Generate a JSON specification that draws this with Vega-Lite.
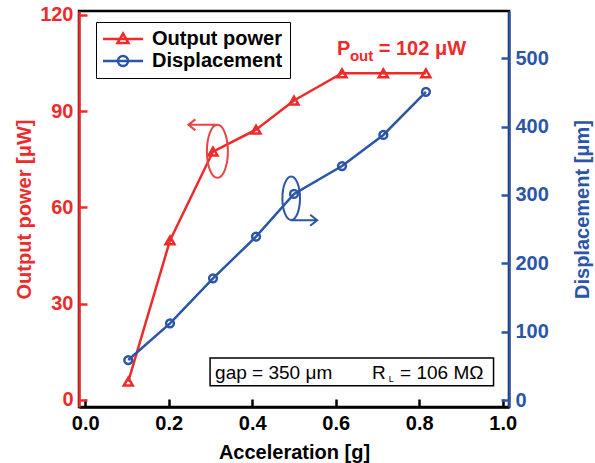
{
  "$schema": "https://vega.github.io/schema/vega-lite/v6.json",
  "width": 430,
  "height": 396,
  "autosize": {"type": "none"},
  "padding": {"left": 79, "top": 11, "right": 86, "bottom": 56},
  "config": {
    "view": {"stroke": "black", "strokeWidth": 2.5},
    "font": "Liberation Sans",
    "axis": {
      "grid": false,
      "labelFont": "Liberation Sans",
      "labelFontWeight": "bold",
      "labelFontSize": 20,
      "titleFont": "Liberation Sans",
      "titleFontWeight": "bold",
      "titleFontSize": 20,
      "domainWidth": 2.5,
      "tickWidth": 2.5,
      "tickSize": -8,
      "labelPadding": 14
    }
  },
  "datasets": {
    "power": [
      {"acc": 0.103, "power": 5.7},
      {"acc": 0.203, "power": 49.7},
      {"acc": 0.306, "power": 77.4},
      {"acc": 0.409, "power": 84.2},
      {"acc": 0.5, "power": 93.3},
      {"acc": 0.615, "power": 101.8},
      {"acc": 0.714, "power": 101.8},
      {"acc": 0.816, "power": 101.8}
    ],
    "disp": [
      {"acc": 0.103, "disp": 58.5},
      {"acc": 0.203, "disp": 112.2},
      {"acc": 0.306, "disp": 178},
      {"acc": 0.409, "disp": 239},
      {"acc": 0.5, "disp": 301.5},
      {"acc": 0.615, "disp": 342.4},
      {"acc": 0.714, "disp": 387.8},
      {"acc": 0.816, "disp": 451}
    ],
    "series": [
      {"s": "Output power"},
      {"s": "Displacement"}
    ],
    "pout_main": [
      {"acc": 0.603, "power": 107.5, "t": "P"},
      {"acc": 0.703, "power": 107.5, "t": "= 102 μW"}
    ],
    "pout_sub": [
      {"acc": 0.634, "power": 105.6, "t": "out"}
    ],
    "red_loop": [
      {"acc": 0.3165, "power": 77.46}
    ],
    "blue_loop": [
      {"acc": 0.4933, "disp": 295.2}
    ],
    "info_box": [
      {"acc": 0.299, "acc2": 0.978, "power": 4.46, "power2": 13.1}
    ],
    "info_main": [
      {"acc": 0.311, "power": 6.5, "t": "gap = 350 μm"},
      {"acc": 0.687, "power": 6.5, "t": "R"},
      {"acc": 0.754, "power": 6.5, "t": "= 106 MΩ"}
    ],
    "info_sub": [
      {"acc": 0.727, "power": 5.7, "t": "L"}
    ]
  },
  "layer": [
    {
      "data": {"name": "power"},
      "encoding": {
        "x": {
          "field": "acc",
          "type": "quantitative",
          "scale": {"domain": [-0.015, 1.015], "nice": false, "zero": false},
          "axis": {
            "title": "Acceleration [g]",
            "values": [0, 0.2, 0.4, 0.6, 0.8, 1.0],
            "format": ".1f",
            "domainColor": "black",
            "tickColor": "black",
            "labelColor": "black",
            "titleColor": "black",
            "titlePadding": 9
          }
        },
        "y": {
          "field": "power",
          "type": "quantitative",
          "scale": {"domain": [-2.2, 121.2], "nice": false, "zero": false},
          "axis": {
            "title": "Output power [μW]",
            "values": [0, 30, 60, 90, 120],
            "domainColor": "#EE2B2B",
            "tickColor": "#EE2B2B",
            "labelColor": "#EE2B2B",
            "titleColor": "#EE2B2B",
            "titlePadding": 5
          }
        }
      },
      "layer": [
        {"mark": {"type": "line", "color": "#EE2B2B", "strokeWidth": 2.5}},
        {"mark": {"type": "point", "shape": "triangle-up", "filled": false, "color": "#EE2B2B", "strokeWidth": 2.5, "size": 80, "opacity": 1}},
        {
          "data": {"name": "series"},
          "mark": {"type": "point", "filled": false, "opacity": 0, "strokeWidth": 2.5},
          "encoding": {
            "x": {"datum": 0.5, "type": "quantitative"},
            "y": {"datum": 50, "type": "quantitative"},
            "color": {
              "field": "s",
              "type": "nominal",
              "scale": {"domain": ["Output power", "Displacement"], "range": ["#EE2B2B", "#2B55A8"]},
              "legend": {
                "title": null,
                "orient": "none",
                "legendX": 17,
                "legendY": 11,
                "strokeColor": "black",
                "fillColor": "white",
                "padding": 7,
                "labelFont": "Liberation Sans",
                "labelFontSize": 20,
                "labelFontWeight": "bold",
                "labelColor": "black",
                "symbolSize": 100,
                "symbolStrokeWidth": 2.5,
                "symbolOffset": 10,
                "labelOffset": 19,
                "rowPadding": 2,
                "symbolOpacity": 1,
                "encode": {"symbols": {"update": {"opacity": {"value": 1}}}}
              }
            },
            "shape": {
              "field": "s",
              "type": "nominal",
              "scale": {
                "domain": ["Output power", "Displacement"],
                "range": [
                  "M-4,0H4M0,-1.1L1.1,0.8L-1.1,0.8Z",
                  "M-4,0H4M1,0A1,1 0 1 1 -1,0A1,1 0 1 1 1,0"
                ]
              }
            }
          }
        },
        {
          "data": {"name": "red_loop"},
          "mark": {"type": "point", "filled": false, "color": "#E84444", "strokeWidth": 2, "size": 4, "opacity": 1,
            "shape": "M-29,-26.5H0M0,-26.5A10.5,26.5 0 1 1 0,26.5A10.5,26.5 0 1 1 0,-26.5M-22,-32L-29,-26.5L-22,-21"}
        },
        {
          "data": {"name": "pout_main"},
          "mark": {"type": "text", "align": "left", "baseline": "alphabetic", "font": "Liberation Sans", "fontWeight": "bold", "fontSize": 20, "color": "#EE2B2B"},
          "encoding": {"text": {"field": "t", "type": "nominal"}}
        },
        {
          "data": {"name": "pout_sub"},
          "mark": {"type": "text", "align": "left", "baseline": "alphabetic", "font": "Liberation Sans", "fontWeight": "bold", "fontSize": 15, "color": "#EE2B2B"},
          "encoding": {"text": {"field": "t", "type": "nominal"}}
        },
        {
          "data": {"name": "info_box"},
          "mark": {"type": "rect", "fill": "white", "stroke": "black", "strokeWidth": 1.5},
          "encoding": {"x2": {"field": "acc2"}, "y2": {"field": "power2"}}
        },
        {
          "data": {"name": "info_main"},
          "mark": {"type": "text", "align": "left", "baseline": "alphabetic", "font": "Liberation Sans", "fontSize": 19, "color": "black"},
          "encoding": {"text": {"field": "t", "type": "nominal"}}
        },
        {
          "data": {"name": "info_sub"},
          "mark": {"type": "text", "align": "left", "baseline": "alphabetic", "font": "Liberation Sans", "fontSize": 9, "color": "black"},
          "encoding": {"text": {"field": "t", "type": "nominal"}}
        }
      ]
    },
    {
      "data": {"name": "disp"},
      "encoding": {
        "x": {"field": "acc", "type": "quantitative"},
        "y": {
          "field": "disp",
          "type": "quantitative",
          "scale": {"domain": [-10.2, 569.2], "nice": false, "zero": false},
          "axis": {
            "orient": "right",
            "title": "Displacement [μm]",
            "titleAngle": -90,
            "titleBaseline": "top",
            "values": [0, 100, 200, 300, 400, 500],
            "domainColor": "#2B55A8",
            "tickColor": "#2B55A8",
            "labelColor": "#2B55A8",
            "titleColor": "#2B55A8",
            "titlePadding": 24
          }
        }
      },
      "layer": [
        {"mark": {"type": "line", "color": "#2B55A8", "strokeWidth": 2.5}},
        {"mark": {"type": "point", "shape": "circle", "filled": false, "color": "#2B55A8", "strokeWidth": 2.5, "size": 60, "opacity": 1}},
        {
          "data": {"name": "blue_loop"},
          "mark": {"type": "point", "filled": false, "color": "#2B55A8", "strokeWidth": 2, "size": 4, "opacity": 1,
            "shape": "M0,-21.7A8.8,21.7 0 1 1 0,21.7A8.8,21.7 0 1 1 0,-21.7M0,22H26M19,16.5L26,22L19,27.5"}
        }
      ]
    }
  ],
  "resolve": {"scale": {"y": "independent"}}
}
